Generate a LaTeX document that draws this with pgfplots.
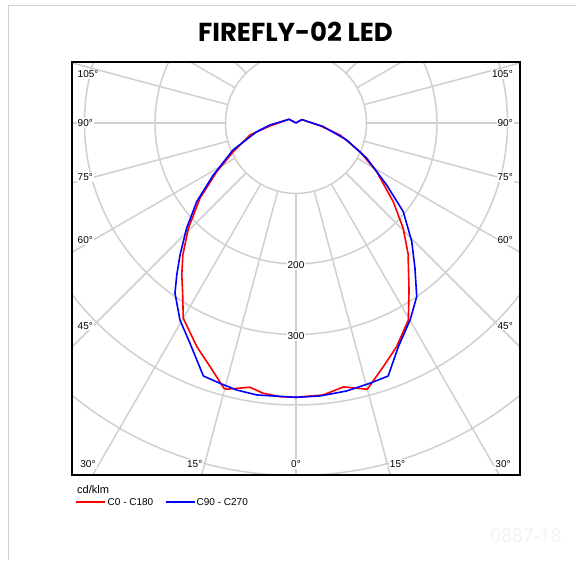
\documentclass[border=0pt]{standalone}
\usepackage{fontspec}
\setmainfont{Liberation Sans}
\newfontfamily\titlefont{Poppins}
\newfontfamily\wmfont{Open Sans}
\usepackage{pgfplots}
\usepackage{pgfplotstable}
\pgfplotsset{compat=1.18}
\definecolor{gridc}{RGB}{208,208,208}
\definecolor{bordc}{RGB}{208,208,208}
\definecolor{wmc}{RGB}{243,243,243}
\definecolor{cred}{RGB}{255,0,0}
\definecolor{cblue}{RGB}{0,0,255}

% gamma (deg), intensity (cd/klm), side s (-1 = C180 / C270 left, +1 = C0 / C90 right)
\pgfplotstableread{
g r s
180 0 -1
118 11.2 -1
83.4 37.1 -1
75.4 67.4 -1
65.4 97.8 -1
58.4 132.0 -1
51.9 173.1 -1
45.6 213.7 -1
40.6 246.7 -1
36.9 269.8 -1
33.7 289.8 -1
30.0 319.8 -1
23.9 347.1 -1
19.4 366.6 -1
15.2 389.9 -1
14.6 390.3 -1
9.9 380.5 -1
6.9 386.2 -1
3.3 388.9 -1
0 389.1 1
5.7 387.7 1
10.2 380.4 1
15.0 391.0 1
19.7 367.2 1
24.2 348.0 1
29.7 321.7 1
34.1 286.0 1
39.3 251.3 1
40.4 245.8 1
45.5 213.2 1
51.0 177.5 1
58.9 133.7 1
65.8 99.5 1
74.7 64.7 1
83.6 34.3 1
120 9.6 1
180 0 1
}\redtab

\pgfplotstableread{
g r s
180 0 -1
118 11.2 -1
85.6 37.0 -1
77.5 57.1 -1
66.8 97.2 -1
57.8 138.6 -1
51.6 179.7 -1
46.1 215.3 -1
41.3 249.2 -1
38.1 274.1 -1
35.4 296.3 -1
30.5 324.3 -1
25.7 346.8 -1
20.1 382.2 -1
16.3 384.7 -1
12.5 388.0 -1
8.2 389.8 -1
0 389.1 1
5.0 388.7 1
10.7 386.9 1
15.9 383.8 1
20.0 382.0 1
24.6 348.9 1
30.1 322.8 1
34.8 300.0 1
39.3 266.4 1
44.3 235.1 1
50.4 197.5 1
55.6 155.9 1
63.5 112.1 1
71.5 75.8 1
82.3 39.1 1
120 9.6 1
180 0 1
}\bluetab

\begin{document}
\begin{tikzpicture}[x=1pt,y=1pt]
\useasboundingbox (0,0) rectangle (576,560);
\fill[white] (0,0) rectangle (576,560);
\draw[bordc, line width=1.6pt] (8.5,0) -- (8.5,554.5) -- (576,554.5);

\begin{axis}[at={(72pt,85pt)}, anchor=south west, scale only axis,
  width=448pt, height=413.3pt,
  xmin=-317.7, xmax=317.7, ymin=-499.3, ymax=86.9,
  hide axis, clip=true]
\pgfplotsinvokeforeach{100,200,300,400,500,600}{
  \draw[gridc, line width=1.5pt] (axis cs:0,0) circle[radius=#1];
}
\pgfplotsinvokeforeach{0,15,30,45,60,75,90,105,120,135,150,165,180,195,210,225,240,255,270,285,300,315,330,345}{
  \draw[gridc, line width=1.5pt] (axis cs:{100*cos(#1)},{100*sin(#1)}) -- (axis cs:{900*cos(#1)},{900*sin(#1)});
}
\addplot[cred, line width=1.6pt, data cs=polar, line join=round] table[x expr={270+\thisrow{s}*\thisrow{g}}, y=r] {\redtab};
\addplot[cblue, line width=1.6pt, data cs=polar, line join=round] table[x expr={270+\thisrow{s}*\thisrow{g}}, y=r] {\bluetab};
\end{axis}

\draw[black, line width=1.8pt] (72,85) rectangle (520,498.3);

\begin{scope}[every node/.style={fill=white, inner sep=1pt, font=\fontsize{10}{12}\selectfont}]
\node[anchor=west] at (76.5,485.7) {105°};
\node[anchor=west] at (76.5,437.3) {90°};
\node[anchor=west] at (76.5,383) {75°};
\node[anchor=west] at (76.5,320) {60°};
\node[anchor=west] at (76.5,234.3) {45°};
\node[anchor=east] at (514,485.7) {105°};
\node[anchor=east] at (514,437.3) {90°};
\node[anchor=east] at (514,383) {75°};
\node[anchor=east] at (514,320) {60°};
\node[anchor=east] at (514,234.3) {45°};
\node at (88,96) {30°};
\node at (194.7,96) {15°};
\node at (296,96) {0°};
\node at (397.5,96) {15°};
\node at (503,96) {30°};
\node at (296,295) {200};
\node at (296,224) {300};
\end{scope}

\node[anchor=base, inner sep=0pt, font=\titlefont\bfseries\fontsize{26}{30}\selectfont] at (295.5,518.5) {FIREFLY-02 LED};

\node[anchor=west, inner sep=0pt, font=\fontsize{11}{13}\selectfont] at (77,70.5) {cd/klm};
\path[draw=cred, line width=2pt] (76,58.3) -- (105,58.3);
\node[anchor=west, inner sep=0pt, font=\fontsize{10}{12}\selectfont] at (107.5,58.3) {C0 - C180};
\path[draw=cblue, line width=2pt] (166,58.3) -- (195,58.3);
\node[anchor=west, inner sep=0pt, font=\fontsize{10}{12}\selectfont] at (196.5,58.3) {C90 - C270};

\node[anchor=base west, inner sep=0pt, text=wmc, font=\wmfont\fontsize{19}{23}\selectfont] at (490,17) {0887-18};
\end{tikzpicture}
\end{document}
